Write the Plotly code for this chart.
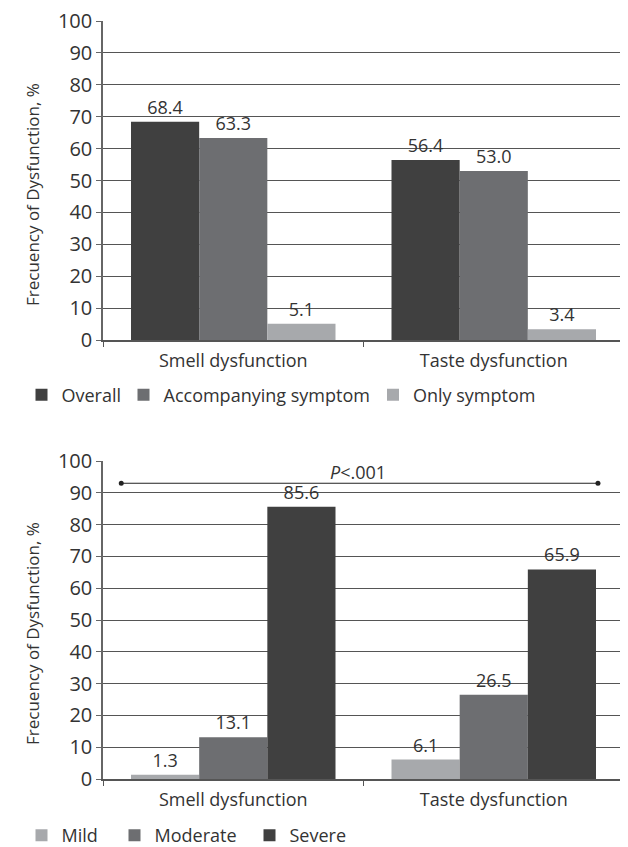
import plotly.graph_objects as go

categories = ["Smell dysfunction", "Taste dysfunction"]

# Top chart
overall = [68.4, 56.4]
accompanying = [63.3, 53.0]
only_symptom = [5.1, 3.4]

# Bottom chart
mild = [1.3, 6.1]
moderate = [13.1, 26.5]
severe = [85.6, 65.9]

y_ticks = [0, 10, 20, 30, 40, 50, 60, 70, 80, 90, 100]
y_title = "Frecuency of Dysfunction, %"
p_text = "<i>P</i>&lt;.001"
p_line_x = [-0.43, 1.40]
p_line_y = 93
p_text_x = 0.48
p_text_y = 96.6

DARK = "#404040"
MID = "#6d6e71"
LIGHT = "#a7a9ac"
TXT = "#333333"
FONT = "Open Sans"

# The page body has an 8px default margin; the figure is shrunk to compensate.
OFF = 8
W, H = 628 - OFF, 847 - OFF
# reference-frame plot edges (pixels in the 628x847 window)
REF_L, REF_R, REF_T, REF_B = 103, 624, 21, 779
ML = REF_L - OFF
MR = W - (REF_R - OFF)
MT = REF_T - OFF
MB = H - (REF_B - OFF)
PW = W - ML - MR
PH = H - MT - MB


def px_x(px):
    return (px - REF_L) / PW


def px_y(py):
    return (REF_B - py) / PH


fig = go.Figure()


def add_bar(name, vals, color, xa, ya, legend):
    fig.add_trace(go.Bar(
        x=categories, y=vals, name=name, marker=dict(color=color, line=dict(width=0)),
        text=[f"{v:.1f}" for v in vals], textposition="outside",
        textfont=dict(size=18, color=TXT, family=FONT), cliponaxis=False,
        xaxis=xa, yaxis=ya, legend=legend,
    ))


add_bar("Overall", overall, DARK, "x", "y", "legend")
add_bar("Accompanying symptom", accompanying, MID, "x", "y", "legend2")
add_bar("Only symptom", only_symptom, LIGHT, "x", "y", "legend3")
add_bar("Mild", mild, LIGHT, "x2", "y2", "legend4")
add_bar("Moderate", moderate, MID, "x2", "y2", "legend5")
add_bar("Severe", severe, DARK, "x2", "y2", "legend6")

# P-value bracket
fig.add_shape(type="line", xref="x2", yref="y2", x0=p_line_x[0], x1=p_line_x[1],
              y0=p_line_y, y1=p_line_y, line=dict(color="#222", width=1.2))
for xv in p_line_x:
    fig.add_shape(type="circle", xref="x2", yref="y2", xsizemode="pixel", ysizemode="pixel",
                  xanchor=xv, yanchor=p_line_y, x0=-2.5, x1=2.5, y0=-2.5, y1=2.5,
                  fillcolor="#222", line=dict(width=0))

fig.add_annotation(
    x=p_text_x, y=p_text_y, xref="x2", yref="y2", text=p_text, showarrow=False,
    font=dict(size=18, color=TXT, family=FONT),
)

# y-axis titles
for cy in (195, 634):
    fig.add_annotation(
        x=px_x(32), y=px_y(cy), xref="paper", yref="paper", text=y_title,
        textangle=-90, showarrow=False, xanchor="center", yanchor="middle",
        font=dict(size=17, color=TXT, family=FONT),
    )

xaxis_common = dict(
    showline=True, linecolor="#555", linewidth=1.5,
    ticks="outside", tickson="boundaries", ticklen=5, tickcolor="#555",
    tickfont=dict(size=18, color=TXT, family=FONT), showgrid=False,
    range=[-0.5, 1.5], automargin=False, ticklabelstandoff=4,
)
yaxis_common = dict(
    range=[0, 100], tickvals=y_ticks, showline=True, linecolor="#666", linewidth=1.5,
    ticks="outside", ticklen=5, tickcolor="#666",
    tickfont=dict(size=20, color=TXT, family=FONT), ticklabeloverflow="allow",
    showgrid=True, gridcolor="#555", gridwidth=1, zeroline=False, automargin=False,
)

legend_font = dict(size=18, color=TXT, family=FONT)


def leg(sq_center_x, sq_center_y):
    return dict(orientation="h", x=px_x(sq_center_x - 27), xanchor="left",
                y=px_y(sq_center_y), yanchor="middle", font=legend_font,
                bgcolor="rgba(0,0,0,0)", borderwidth=0)


fig.update_layout(
    width=W, height=H,
    margin=dict(l=ML, r=MR, t=MT, b=MB, autoexpand=False),
    paper_bgcolor="white", plot_bgcolor="white",
    font=dict(family=FONT, color=TXT),
    barmode="group", bargap=0.215, bargroupgap=0,
    xaxis=dict(domain=[0, 1], anchor="y", **xaxis_common),
    yaxis=dict(domain=[px_y(340), 1], anchor="x", **yaxis_common),
    xaxis2=dict(domain=[0, 1], anchor="y2", **xaxis_common),
    yaxis2=dict(domain=[0, px_y(461)], anchor="x2", **yaxis_common),
    legend=leg(48.5, 395),
    legend2=leg(150.5, 395),
    legend3=leg(400, 395),
    legend4=leg(48.5, 835.5),
    legend5=leg(141.5, 835.5),
    legend6=leg(276.5, 835.5),
    showlegend=True,
)

fig.write_html("out.html")
